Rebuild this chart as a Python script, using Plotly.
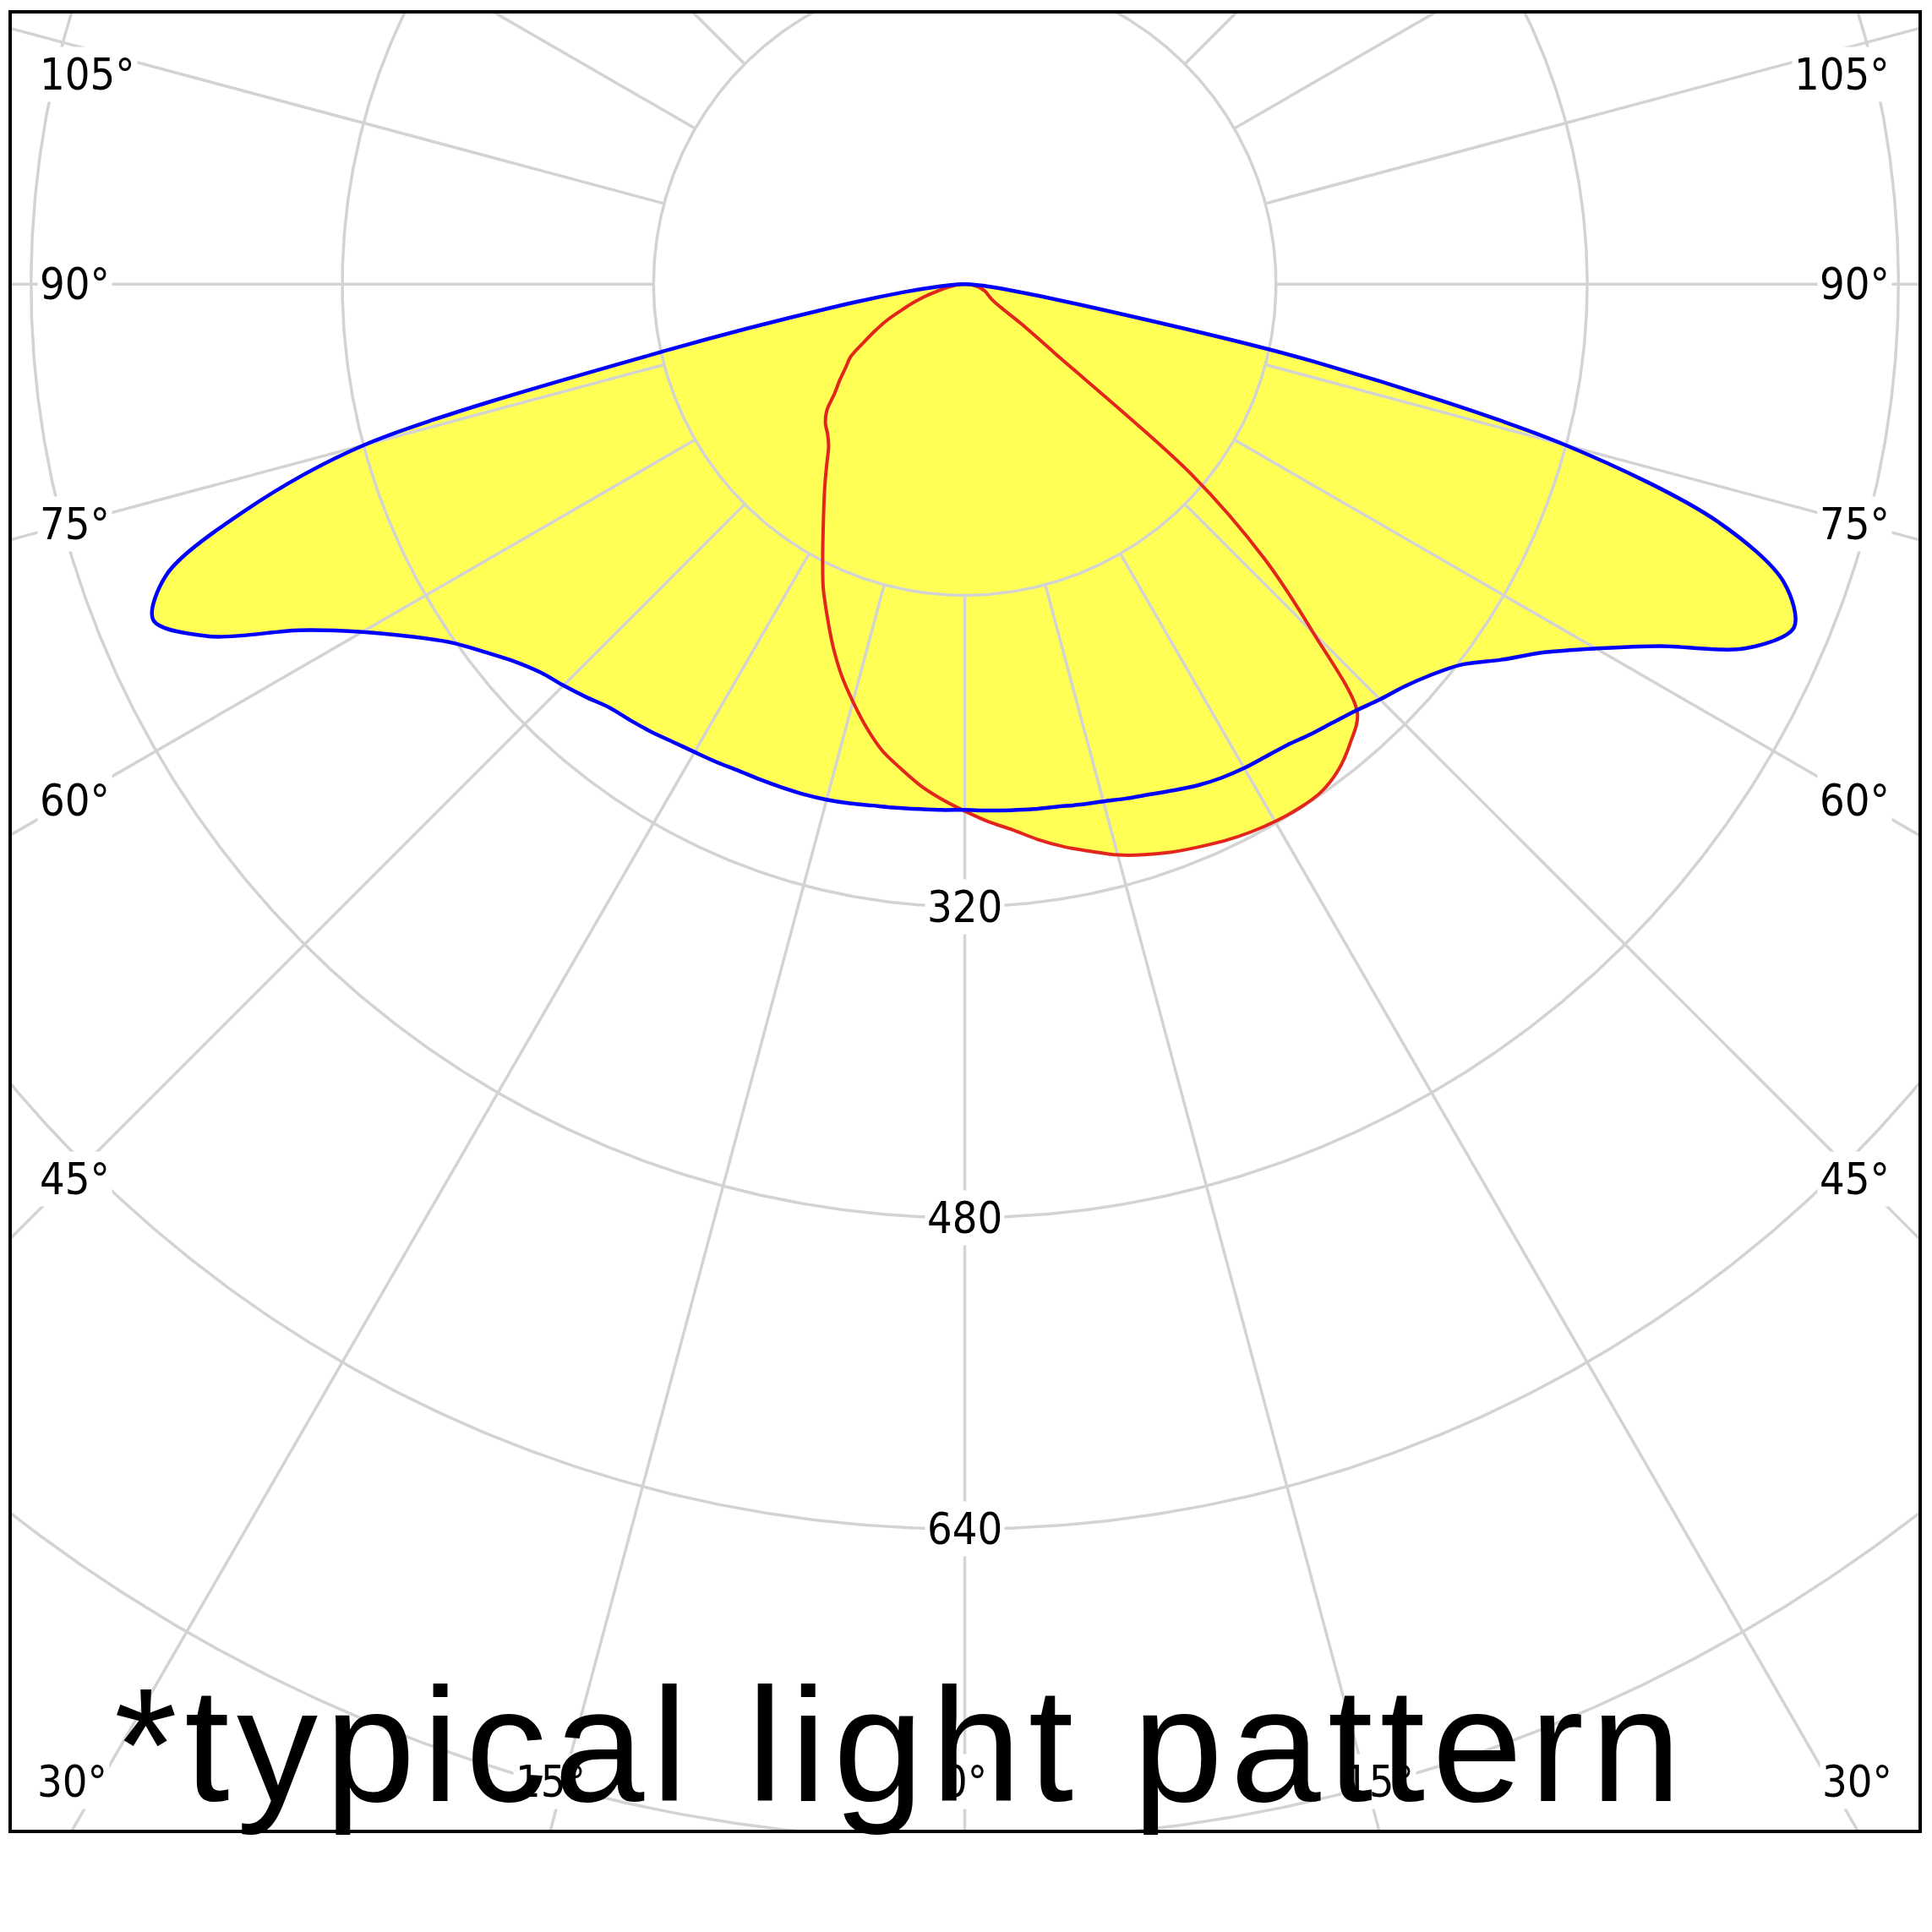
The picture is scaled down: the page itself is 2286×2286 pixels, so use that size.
import numpy as np
import plotly.graph_objects as go

# ---------------- data (cd/klm) ----------------
gamma_deg = [0, 2.5, 5, 7.5, 10, 12.5, 15, 17.5, 20, 22.5, 25, 27.5, 30, 32.5, 35, 37.5,
             40, 42.5, 45, 47.5, 50, 52.5, 55, 57.5, 60, 62.5, 65, 67.5, 70, 72.5, 75,
             77.5, 80, 82.5, 85, 87.5, 90]

# C0 - C180 plane (blue)
c0_cd = [270.3, 270.9, 271.5, 272.2, 272.8, 274.1, 275.3, 277.2, 279.1, 281.6, 284.2, 286.1,
         287.3, 288.0, 289.2, 291.8, 294.3, 297.5, 301.9, 306.3, 312.7, 321.5, 336.7, 352.5,
         374.7, 403.0, 443.0, 461.4, 448.1, 405.7, 319.6, 183.5, 57.0, 22.0, 9.5, 3.0, 0]
c180_cd = [270.3, 270.6, 270.9, 271.5, 272.2, 273.4, 274.4, 275.0, 275.3, 275.6, 275.9, 276.9,
           277.8, 279.1, 281.0, 282.6, 284.2, 288.0, 291.8, 295.6, 301.9, 310.8, 321.5, 337.3,
           357.6, 385.4, 428.5, 451.5, 436.7, 388.6, 319.6, 155.1, 69.6, 31.6, 12.7, 3.8, 0]

# C90 - C270 plane (red)
c90_cd = [270.9, 276.6, 281.6, 288.0, 293.7, 298.7, 303.8, 307.6, 310.8, 313.3, 315.8, 317.7,
          319.0, 319.6, 319.0, 315.2, 308.2, 298.7, 253.2, 208.9, 151.9, 58.2, 34.8, 20.9,
          16.5, 14.5, 13.3, 12.3, 11.4, 10.0, 8.9, 7.3, 5.7, 4.0, 2.5, 1.2, 0]
c270_cd = [270.9, 265.2, 258.9, 251.3, 243.7, 233.5, 222.2, 210.8, 198.1, 184.8, 172.2, 158.2,
           145.6, 134.8, 125.3, 116.5, 108.9, 104.4, 101.3, 96.2, 87.3, 81.0, 74.7, 69.6,
           60.1, 51.9, 44.3, 35.4, 28.5, 22.2, 15.8, 11.5, 7.6, 5.0, 3.2, 1.5, 0]

ring_values = [160, 320, 480, 640, 800, 960]
ring_labels = [320, 480, 640]
spoke_angles = list(range(0, 360, 15))
side_label_angles = [105, 90, 75, 60, 45]
bottom_label_angles = [30, 15, 0]
note_text = "*typical light pattern"

# ---------------- styling ----------------
YELLOW = "#ffff55"
BLUE = "#0000ff"
RED = "#e3261c"
GRID = "#d3d3d3"
LABEL_FONT = "DejaVu Sans Condensed, DejaVu Sans, sans-serif"

X_RANGE = [-489.9, 490.3]
Y_RANGE = [-794.6, 139.1]


def side_xy(r_list, sign):
    g = np.radians(np.array(gamma_deg, dtype=float))
    r = np.array(r_list, dtype=float)
    return sign * r * np.sin(g), -r * np.cos(g)


def closed_curve(left, right):
    xl, yl = side_xy(left, -1)
    xr, yr = side_xy(right, 1)
    return np.concatenate([xl[::-1], xr[1:]]), np.concatenate([yl[::-1], yr[1:]])


bx, by = closed_curve(c180_cd, c0_cd)
rx, ry = closed_curve(c270_cd, c90_cd)

SMOOTH = 0.9
fig = go.Figure()

# yellow fills
for cx, cy in ((bx, by), (rx, ry)):
    fig.add_trace(go.Scatter(x=cx, y=cy, mode="lines", fill="toself", fillcolor=YELLOW,
                             line=dict(width=0, color=YELLOW, shape="spline", smoothing=SMOOTH),
                             hoverinfo="skip"))

# grid rings
th = np.linspace(0, 2 * np.pi, 1441)
gx, gy = [], []
for R in ring_values:
    gx += list(R * np.sin(th)) + [None]
    gy += list(-R * np.cos(th)) + [None]
# spokes starting at the first ring
for a in spoke_angles:
    t = np.radians(a)
    gx += [ring_values[0] * np.sin(t), 1500 * np.sin(t), None]
    gy += [-ring_values[0] * np.cos(t), -1500 * np.cos(t), None]
fig.add_trace(go.Scatter(x=gx, y=gy, mode="lines", line=dict(color=GRID, width=3.5),
                         hoverinfo="skip"))

# curves
fig.add_trace(go.Scatter(x=rx, y=ry, mode="lines",
                         line=dict(color=RED, width=4, shape="spline", smoothing=SMOOTH),
                         hoverinfo="skip"))
fig.add_trace(go.Scatter(x=bx, y=by, mode="lines",
                         line=dict(color=BLUE, width=4.5, shape="spline", smoothing=SMOOTH),
                         hoverinfo="skip"))

annotations = []
lab_font = dict(family=LABEL_FONT, size=52, color="black")
for R in ring_labels:
    annotations.append(dict(x=0, y=-R, xref="x", yref="y", text=str(R), showarrow=False,
                            bgcolor="white", borderpad=2, font=lab_font))

SIDE_X = 460
EDGE_X = 477
TOP_Y = 108
LABEL_Y_BOTTOM = -770
for a in side_label_angles:
    yv = -SIDE_X / np.tan(np.radians(a)) if a != 90 else 0.0
    yv = min(yv, TOP_Y)
    for s, anc in ((-1, "left"), (1, "right")):
        annotations.append(dict(x=s * EDGE_X, y=yv, xref="x", yref="y", text=f"{a}°",
                                xanchor=anc, showarrow=False, bgcolor="white", borderpad=2,
                                font=lab_font))
for a in bottom_label_angles:
    xv = min(abs(Y_RANGE[0]) * np.tan(np.radians(a)), SIDE_X)
    for s in ((-1, 1) if a else (1,)):
        annotations.append(dict(x=s * xv, y=LABEL_Y_BOTTOM, xref="x", yref="y", text=f"{a}°",
                                showarrow=False, bgcolor="white", borderpad=2, font=lab_font))

annotations.append(dict(x=0.0527, y=0, xref="paper", yref="paper", xanchor="left",
                        yanchor="bottom", yshift=-9, showarrow=False,
                        text=f'<span style="letter-spacing:8.5px">{note_text}</span>',
                        font=dict(family="Liberation Sans, Arial, sans-serif", size=192,
                                  color="black")))

fig.update_layout(width=2286, height=2286, margin=dict(l=14, r=14, t=14, b=121),
                  paper_bgcolor="white", plot_bgcolor="white", showlegend=False,
                  annotations=annotations)
axis_common = dict(showgrid=False, zeroline=False, showticklabels=False, ticks="",
                   showline=True, mirror=True, linecolor="black", linewidth=3.5,
                   fixedrange=True)
fig.update_xaxes(range=X_RANGE, **axis_common)
fig.update_yaxes(range=Y_RANGE, **axis_common)

fig.write_html("out.html", config={"displayModeBar": False},
               post_script="document.body.style.margin='0';document.body.style.overflow='hidden';")
